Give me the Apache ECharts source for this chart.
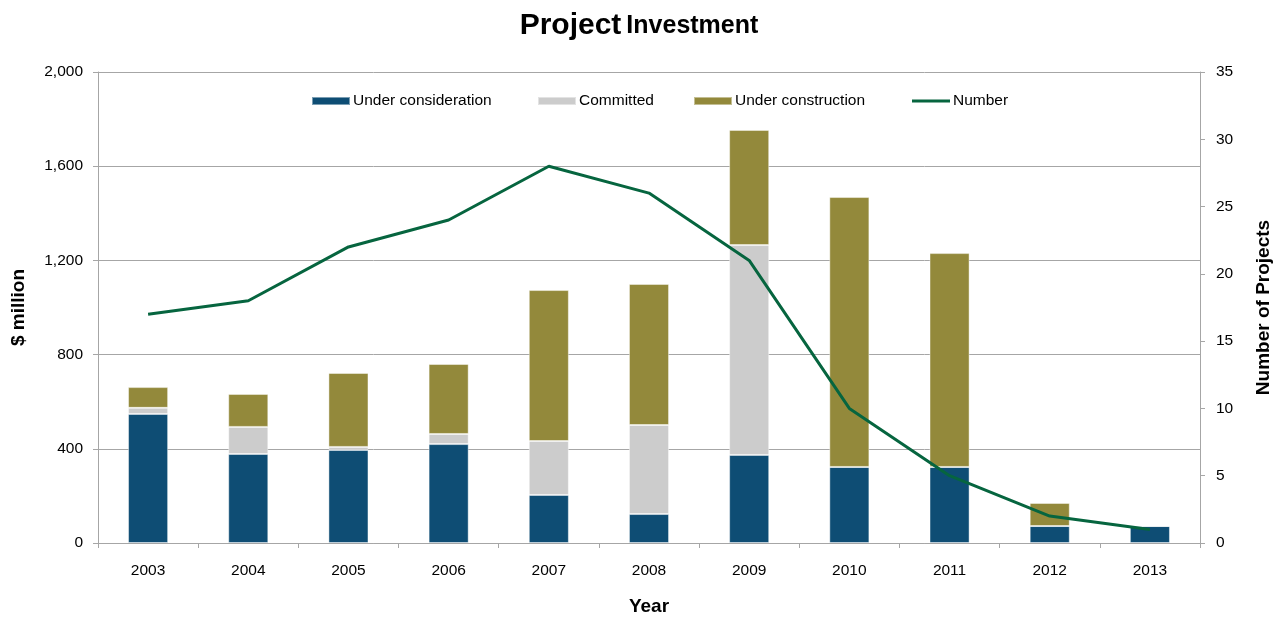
<!DOCTYPE html>
<html>
<head>
<meta charset="utf-8">
<script src="https://cdn.jsdelivr.net/npm/echarts@6/dist/echarts.min.js"></script>
<style>
  html, body { margin: 0; padding: 0; background: #fff; }
  #main { width: 1278px; height: 617px; }
</style>
</head>
<body>
<div id="main"></div>
<script>
// data
var years = ["2003", "2004", "2005", "2006", "2007", "2008", "2009", "2010", "2011", "2012", "2013"];
var underConsideration = [548, 378, 395, 420, 204, 123, 374, 323, 323, 72, 72];
var committed = [26, 115, 13, 43, 229, 378, 891, 0, 0, 0, 0];
var underConstruction = [88, 140, 314, 297, 641, 599, 489, 1146, 908, 98, 0];
var numberOfProjects = [17, 18, 22, 24, 28, 26, 21, 10, 5, 2, 1];

var font = "Liberation Sans, Arial, sans-serif";
var gridGrey = "#a6a6a6";
var lineGreen = "#06653f";

var myChart = echarts.init(document.getElementById("main"));

function barSeries(name, data, color) {
  return {
    name: name,
    type: "bar",
    stack: "invest",
    barWidth: "40%",
    itemStyle: {
      color: color,
      borderColor: "rgba(255,255,255,0.45)",
      borderWidth: 1
    },
    data: data
  };
}

// one legend per item so each sits where the reference puts it
function legendAt(name, left, icon) {
  return {
    top: 93,
    left: left,
    padding: 0,
    itemWidth: 38,
    itemHeight: 8,
    textStyle: { fontFamily: font, fontSize: 15.5, color: "#000", padding: [0, 0, 0, -2] },
    data: [{ name: name, icon: icon }]
  };
}

myChart.setOption({
  animation: false,
  textStyle: { fontFamily: font },
  title: {
    text: "{a|Project} {b|Investment}",
    left: "center",
    top: 6,
    textStyle: {
      rich: {
        a: { fontFamily: font, fontSize: 30, fontWeight: "bold", color: "#000" },
        b: { fontFamily: font, fontSize: 25, fontWeight: "bold", color: "#000" }
      }
    }
  },
  legend: [
    legendAt("Under consideration", 311, "rect"),
    legendAt("Committed", 537, "rect"),
    legendAt("Under construction", 693, "rect"),
    legendAt("Number", 912, "path://M0,0 H38 V3 H0 Z")
  ],
  grid: { left: 98, right: 78, top: 72, bottom: 74, outerBoundsMode: "none" },
  xAxis: {
    type: "category",
    data: years,
    name: "Year",
    nameLocation: "middle",
    nameGap: 54,
    nameTextStyle: { fontFamily: font, fontSize: 19, fontWeight: "bold", color: "#000" },
    axisLine: { lineStyle: { color: gridGrey, width: 1 } },
    axisTick: { show: true, length: 5, lineStyle: { color: gridGrey } },
    axisLabel: { fontFamily: font, fontSize: 15.5, color: "#000", margin: 20 }
  },
  yAxis: [
    {
      type: "value",
      min: 0,
      max: 2000,
      interval: 400,
      name: "$ million",
      nameLocation: "middle",
      nameGap: 70,
      nameTextStyle: { fontFamily: font, fontSize: 19, fontWeight: "bold", color: "#000" },
      axisLine: { show: true, lineStyle: { color: gridGrey } },
      axisTick: { show: true, length: 5, lineStyle: { color: gridGrey } },
      splitLine: { show: true, lineStyle: { color: gridGrey, width: 1 } },
      axisLabel: {
        fontFamily: font,
        fontSize: 15.5,
        color: "#000",
        margin: 15,
        formatter: function (v) {
          return v.toLocaleString("en-US");
        }
      }
    },
    {
      type: "value",
      min: 0,
      max: 35,
      interval: 5,
      name: "Number of Projects",
      nameLocation: "middle",
      nameGap: 54,
      nameRotate: 90,
      nameTextStyle: { fontFamily: font, fontSize: 19, fontWeight: "bold", color: "#000" },
      axisLine: { show: true, lineStyle: { color: gridGrey } },
      axisTick: { show: true, length: 5, lineStyle: { color: gridGrey } },
      splitLine: { show: false },
      axisLabel: { fontFamily: font, fontSize: 15.5, color: "#000", margin: 16 }
    }
  ],
  series: [
    barSeries("Under consideration", underConsideration, "#0e4d74"),
    barSeries("Committed", committed, "#cccccc"),
    barSeries("Under construction", underConstruction, "#93893b"),
    {
      name: "Number",
      type: "line",
      yAxisIndex: 1,
      symbol: "none",
      lineStyle: { color: lineGreen, width: 3 },
      itemStyle: { color: lineGreen },
      data: numberOfProjects
    }
  ]
});
</script>
</body>
</html>
